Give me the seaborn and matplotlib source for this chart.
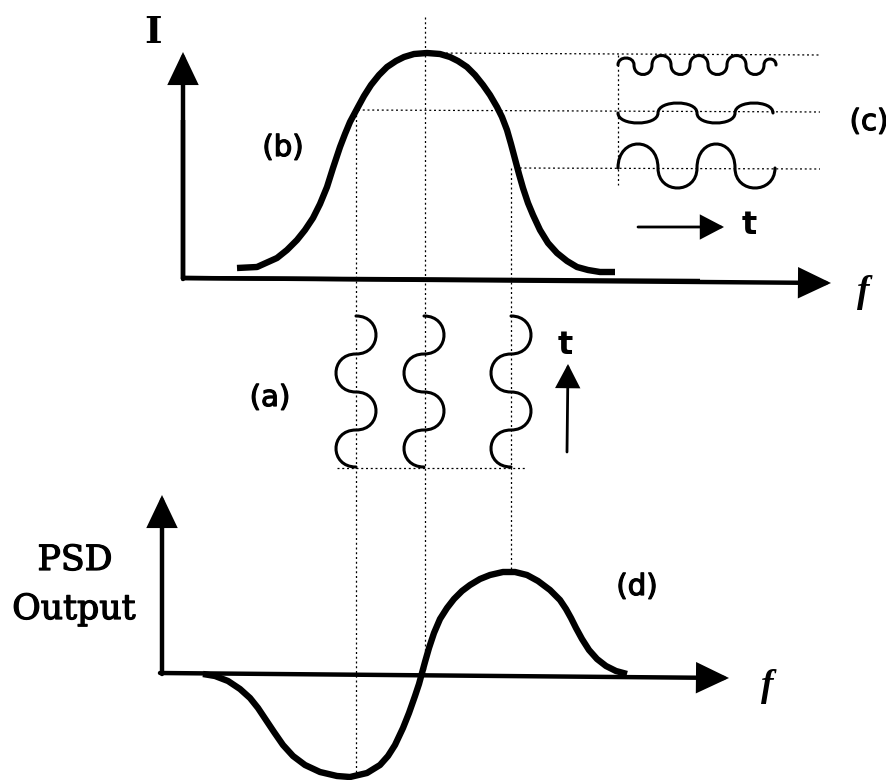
import matplotlib
matplotlib.use("Agg")
import matplotlib.pyplot as plt
import matplotlib.patheffects as pe
from matplotlib.path import Path
from matplotlib.patches import PathPatch
import pandas as pd
import seaborn as sns

# ---------------- data (drawing units) ----------------
# (b) laser line shape: intensity I vs frequency f
b_f = [237, 257, 277, 287, 297, 305, 313, 320, 327, 333, 340, 345, 350, 358, 364,
       371, 379, 387, 396, 404, 414, 427, 440, 450, 458, 467, 475, 483, 490, 497,
       502, 507, 511, 515, 519, 523, 528, 533, 540, 548, 557, 567, 577, 588, 600, 615]
b_I = [268, 267, 258, 250, 240, 230, 218, 204, 187, 168, 147, 134, 122, 107, 96,
       85, 75, 67, 61, 57, 54, 53, 54, 57, 61, 67, 75, 85, 95, 107,
       117, 130, 144, 159, 174, 188, 203, 215, 230, 243, 253, 261, 267, 270, 272, 272]

# (d) phase sensitive detector output vs frequency
d_f = [203, 215, 228, 240, 250, 258, 266, 274, 283, 293, 305, 320, 337, 350, 367,
       380, 388, 395, 403, 409, 415, 419, 422, 425, 429, 434, 440, 447, 454, 462,
       470, 480, 490, 503, 515, 527, 538, 550, 560, 566, 571, 576, 582, 589, 597,
       606, 616, 627]
d_P = [674, 676, 681, 689, 698, 708, 720, 732, 745, 756, 765, 772, 776, 777, 773,
       765, 756, 745, 728, 713, 696, 684, 673, 662, 648, 633, 619, 608, 599, 591,
       585, 579, 575, 572, 572, 575, 581, 590, 600, 609, 618, 628, 639, 650, 659,
       666, 671, 674]

# (c) modulated intensity vs time: node positions and half-wave amplitudes
c_top_nodes = [618, 634, 652, 671, 690, 708, 727, 746, 764, 776]
c_top_amps = [-7, 9.5, -9.5, 9.5, -9.5, 9.5, -9.5, 9.5, -6]
c_top_level = 65
c_mid_nodes = [618, 658, 697, 735, 773]
c_mid_amps = [10, -10, 10, -10]
c_mid_level = 113
c_bot_nodes = [618, 658, 697, 735, 775]
c_bot_amps = [-24, 20, -24, 20]
c_bot_level = 168

# (a) frequency modulation vs time (vertical waves)
a_centers = [356, 424, 511]
a_nodes = [316, 354, 392, 430, 467]
a_amps = [20, -20, 20, -20]

# projection levels (dotted guide lines)
guide_f = [356, 425, 511]
guide_I = [53, 110, 168]

# ---------------- drawing ----------------
sns.set_theme(style="white")
plt.rcParams["font.family"] = ["DejaVu Sans"]
plt.rcParams["text.color"] = "black"

fig = plt.figure(figsize=(8.87, 7.80), dpi=100)
ax = fig.add_axes([0, 0, 1, 1])

K = "black"
dot = dict(color=K, lw=0.9, ls=(0, (1.6, 2.2)))

df_b = pd.DataFrame({"f": b_f, "I": b_I})
df_d = pd.DataFrame({"f": d_f, "P": d_P})
sns.lineplot(data=df_b, x="f", y="I", sort=False, estimator=None, color=K,
             lw=4.6, ax=ax, solid_capstyle="butt", solid_joinstyle="round")
sns.lineplot(data=df_d, x="f", y="P", sort=False, estimator=None, color=K,
             lw=4.6, ax=ax, solid_capstyle="butt", solid_joinstyle="round")
ax.set_xlim(0, 887)
ax.set_ylim(780, 0)
ax.axis("off")

# dotted guides
ax.plot([guide_f[0], guide_f[0]], [guide_I[1], 777], **dot)
ax.plot([guide_f[1], guide_f[1]], [17, 673], **dot)
ax.plot([guide_f[2], guide_f[2]], [guide_I[2], 572], **dot)
ax.plot([427, 820], [guide_I[0], guide_I[0] + 2], **dot)
ax.plot([358, 820], [guide_I[1], guide_I[1] + 2], **dot)
ax.plot([515, 820], [guide_I[2], guide_I[2] + 1], **dot)
ax.plot([618, 618], [55, 185], **dot)
ax.plot([337, 527], [468, 468], **dot)


def arrow(tail, tip, lw=3.2, ms=44, hw=0.2):
    ax.annotate("", xy=tip, xytext=tail,
                arrowprops=dict(arrowstyle=f"-|>,head_length=0.42,head_width={hw}",
                                mutation_scale=ms, lw=lw, color=K,
                                shrinkA=0, shrinkB=0, joinstyle="miter"))


# axes of panel (b)
ax.plot([183, 183], [279, 120], color=K, lw=3.2, solid_capstyle="butt")
arrow((183, 279), (183, 52))
ax.plot([181, 700], [278, 281], color=K, lw=3.2, solid_capstyle="butt")
arrow((183, 278), (831, 283))
# axes of panel (d)
arrow((162, 674), (162, 495))
arrow((160, 673), (729, 678))
# time arrows
arrow((638, 227), (724, 227), lw=2.0, ms=34, hw=0.22)
arrow((567, 452), (568, 364), lw=2.0, ms=34, hw=0.22)


def wave(nodes, amps, level, vertical=False, lw=2.2):
    verts = [(nodes[0], level)]
    codes = [Path.MOVETO]
    for i, a in enumerate(amps):
        n0, n1 = nodes[i], nodes[i + 1]
        c = level + 4.0 / 3.0 * a
        verts += [(n0, c), (n1, c), (n1, level)]
        codes += [Path.CURVE4] * 3
    if vertical:
        verts = [(y, x) for x, y in verts]
    ax.add_patch(PathPatch(Path(verts, codes), fill=False, lw=lw, ec=K,
                           capstyle="round"))


wave(c_top_nodes, c_top_amps, c_top_level)
wave(c_mid_nodes, c_mid_amps, c_mid_level)
wave(c_bot_nodes, c_bot_amps, c_bot_level)
for xc in a_centers:
    wave(a_nodes, a_amps, xc, vertical=True)

# text
thick = [pe.withStroke(linewidth=0.9, foreground="black")]
serif = ["DejaVu Serif"]
ax.text(153, 43, "I", family=serif, fontweight="bold", fontsize=27,
        ha="center", va="baseline", color=K)
for (x, y, s) in [(283, 148, "(b)"), (869, 122, "(c)"), (270, 398, "(a)"),
                  (637, 587, "(d)")]:
    ax.text(x, y, s, fontsize=21, ha="center", va="center", color=K,
            path_effects=thick)
ax.text(749, 225, "t", fontsize=23, fontweight="bold", ha="center", va="center",
        color=K)
ax.text(565, 345, "t", fontsize=23, fontweight="bold", ha="center", va="center",
        color=K)
ax.text(863, 292, "f", family=["Liberation Serif"], style="italic",
        fontweight="bold", fontsize=27, ha="center", va="center", color=K)
ax.text(767, 686, "f", family=["Liberation Serif"], style="italic",
        fontweight="bold", fontsize=27, ha="center", va="center", color=K)
ax.text(75, 570, "PSD", family=serif, fontsize=25, ha="center", va="baseline",
        color=K, path_effects=thick)
ax.text(74, 619, "Output", family=serif, fontsize=25, ha="center",
        va="baseline", color=K, path_effects=thick)

fig.savefig("out.png", dpi=100, facecolor="white")
